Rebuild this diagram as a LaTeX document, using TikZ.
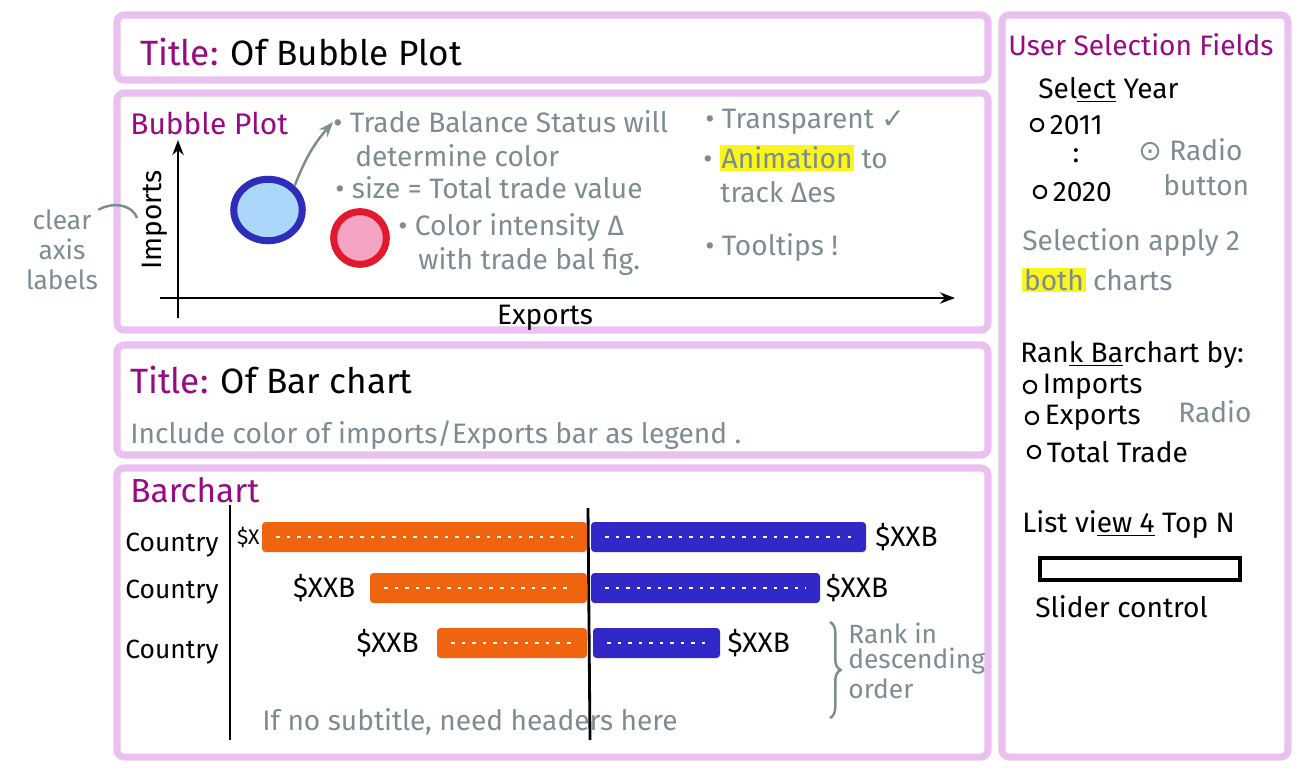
\documentclass[tikz,border=0pt]{standalone}
\usepackage{fontspec}
\setmainfont{Fira Sans}
\newfontfamily\symfont{DejaVu Sans}
\usepackage{xcolor}
\usetikzlibrary{arrows.meta,positioning,fit,shapes.geometric,decorations.pathreplacing}

\definecolor{panelpink}{RGB}{234,192,240}
\definecolor{hdrmag}{RGB}{150,10,130}
\definecolor{notegray}{RGB}{125,140,145}
\definecolor{barorange}{RGB}{240,100,15}
\definecolor{barblue}{RGB}{50,40,200}
\definecolor{bubfill}{RGB}{170,215,250}
\definecolor{bubline}{RGB}{45,45,185}
\definecolor{redfill}{RGB}{245,165,195}
\definecolor{redline}{RGB}{225,25,45}
\definecolor{hiyellow}{RGB}{250,245,30}

% yellow marker
\newcommand{\hl}[1]{{\setlength{\fboxsep}{1pt}\colorbox{hiyellow}{#1}}}

\begin{document}
\begin{tikzpicture}[x=0.02cm, y=-0.02cm,
    >={Stealth[length=3mm]},
    panel/.style={draw=panelpink, line width=4pt, rounded corners=4pt, inner sep=0pt},
    hdr/.style={text=hdrmag, font=\fontsize{17}{19}\selectfont, anchor=west, inner sep=0pt},
    ink/.style={text=black, font=\fontsize{16}{18}\selectfont, anchor=west, inner sep=0pt},
    note/.style={text=notegray, font=\fontsize{16}{19}\selectfont, anchor=west, inner sep=0pt},
    pen/.style={draw=notegray, line width=1.4pt},
    axis/.style={->, line width=1.6pt},
    hatch/.style={path picture={\draw[white, line width=1.2pt, dash pattern=on 2pt off 4pt]
        ([xshift=8pt]path picture bounding box.west) -- ([xshift=-8pt]path picture bounding box.east);}},
    obar/.style={fill=barorange, rounded corners=2pt, inner sep=0pt, hatch},
    bbar/.style={fill=barblue, rounded corners=2pt, inner sep=0pt, hatch},
    radio/.style={circle, draw, line width=1.2pt, minimum size=7pt, inner sep=0pt}]
  \useasboundingbox (0,0) rectangle (1309,772);

  % panels
  \node[panel, fit={(117,15) (988,80)}] (titlebox) {};
  \node[panel, fit={(117,93) (988,330)}] (bubblebox) {};
  \node[panel, fit={(117,345) (988,455)}] (bartitlebox) {};
  \node[panel, fit={(117,468) (988,757)}] (barbox) {};
  \node[panel, fit={(1002,15) (1288,757)}] (selbox) {};

  % title of bubble plot
  \node[ink, font=\fontsize{20}{22}\selectfont] (title1) at (140,52) {{\color{hdrmag}Title:} Of Bubble Plot};

  % bubble plot
  \node[hdr] (bubhdr) at (130,123) {Bubble Plot};
  \draw[axis] (178,318) -- (178,140);
  \draw[axis] (160,298) -- (955,298);
  \node[ink, rotate=90, anchor=center] (ylbl) at (155,220) {Imports};
  \node[ink, anchor=center] (xlbl) at (545,318) {Exports};
  \node[ellipse, draw=bubline, fill=bubfill, line width=4pt, minimum width=39pt, minimum height=35pt] (bbub) at (268,210) {};
  \node[circle, draw=redline, fill=redfill, line width=4pt, minimum size=30pt] (rbub) at (360,238) {};

  \node[note] (tb1) at (333,122) {\textbullet\ Trade Balance Status will};
  \node[note] (tb2) at (355,156) {determine color};
  \node[note] (sz) at (335,188) {\textbullet\ size = Total trade value};
  \node[note] (ci1) at (398,228) {\textbullet\ Color intensity Δ};
  \node[note] (ci2) at (418,262) {with trade bal fig.};
  \node[note] (tr) at (705,122) {\textbullet\ Transparent {\symfont ✓}};
  \node[note] (an1) at (703,158) {\textbullet\ \hl{Animation} to};
  \node[note] (an2) at (720,192) {track Δes};
  \node[note] (tt) at (705,248) {\textbullet\ Tooltips !};
  \draw[pen, ->] (bbub.north east) to[bend left=10] (tb1.west);

  \node[note, anchor=center, align=center, font=\fontsize{15}{17}\selectfont] (axnote) at (62,250) {clear\\axis\\labels};
  \coordinate (axhook) at (137,218);
  \draw[pen] (axnote.north east) to[out=30, in=110] (axhook);

  % title of bar chart
  \node[ink, font=\fontsize{20}{22}\selectfont] (title2) at (130,380) {{\color{hdrmag}Title:} Of Bar chart};
  \node[note] (legnote) at (130,435) {Include color of imports/Exports bar as legend .};

  % bar chart
  \node[hdr, font=\fontsize{19}{21}\selectfont] (barhdr) at (130,490) {Barchart};
  \draw[line width=1.6pt] (230,505) -- (230,740);
  \draw[line width=1.6pt] (588,508) -- (590,740);
  \node[ink, anchor=center, font=\fontsize{15}{17}\selectfont] (c1) at (172,545) {Country};
  \node[ink, anchor=center, font=\fontsize{15}{17}\selectfont] (c2) at (172,592) {Country};
  \node[ink, anchor=center, font=\fontsize{15}{17}\selectfont] (c3) at (172,652) {Country};

  \node[obar, fit={(262,522) (587,552)}] (o1) {};
  \node[obar, fit={(370,573) (587,603)}] (o2) {};
  \node[obar, fit={(437,628) (587,658)}] (o3) {};
  \node[bbar, fit={(591,522) (866,552)}] (b1) {};
  \node[bbar, fit={(591,573) (820,603)}] (b2) {};
  \node[bbar, fit={(593,628) (720,658)}] (b3) {};

  \node[ink, font=\fontsize{12}{14}\selectfont, left=1pt of o1] (v1l) {\$X};
  \node[ink, anchor=west, right=5pt of b1] (v1r) {\$XXB};
  \node[ink, anchor=east, left=8pt of o2] (v2l) {\$XXB};
  \node[ink, anchor=west, right=3pt of b2] (v2r) {\$XXB};
  \node[ink, anchor=east, left=10pt of o3] (v3l) {\$XXB};
  \node[ink, anchor=west, right=4pt of b3] (v3r) {\$XXB};

  \draw[pen, decorate, decoration={brace, amplitude=6pt}] (830,622) -- (830,718);
  \node[note, font=\fontsize{15}{17}\selectfont] (rk1) at (848,633) {Rank in};
  \node[note, font=\fontsize{15}{17}\selectfont] (rk2) at (848,661) {descending};
  \node[note, font=\fontsize{15}{17}\selectfont] (rk3) at (848,689) {order};
  \node[note] (hdrnote) at (262,722) {If no subtitle, need headers here};

  % user selection fields
  \node[hdr, font=\fontsize{16}{18}\selectfont] (selhdr) at (1008,45) {User Selection Fields};
  \node[ink] (yr) at (1038,90) {Sel\underline{ect} Year};
  \node[radio] (rad1) at (1037,125) {};
  \node[ink, right=3pt of rad1] (y2011) {2011};
  \node[ink, anchor=center] (ydots) at (1076,156) {:};
  \node[radio] (rad2) at (1040,192) {};
  \node[ink, right=3pt of rad2] (y2020) {2020};
  \node[note] (rb1) at (1138,150) {{\symfont ⊙} Radio};
  \node[note] (rb2) at (1163,185) {button};
  \node[note] (ap1) at (1022,243) {Selection apply 2};
  \node[note] (ap2) at (1022,280) {\hl{both} charts};

  \node[ink] (rank) at (1020,355) {Ran\underline{k Ba}rchart by:};
  \node[radio] (rad3) at (1030,387) {};
  \node[ink, right=3pt of rad3] (rimp) {Imports};
  \node[radio] (rad4) at (1032,418) {};
  \node[ink, right=3pt of rad4] (rexp) {Exports};
  \node[radio] (rad5) at (1034,452) {};
  \node[ink, right=3pt of rad5] (rtot) {Total Trade};
  \node[note] (radnote) at (1178,412) {Radio};

  \node[ink] (topn) at (1022,525) {List vi\underline{ew 4} Top N};
  \node[draw, line width=2pt, inner sep=0pt, fit={(1040,558) (1240,580)}] (slider) {};
  \node[ink] (slidlbl) at (1035,607) {Slider control};
\end{tikzpicture}
\end{document}
